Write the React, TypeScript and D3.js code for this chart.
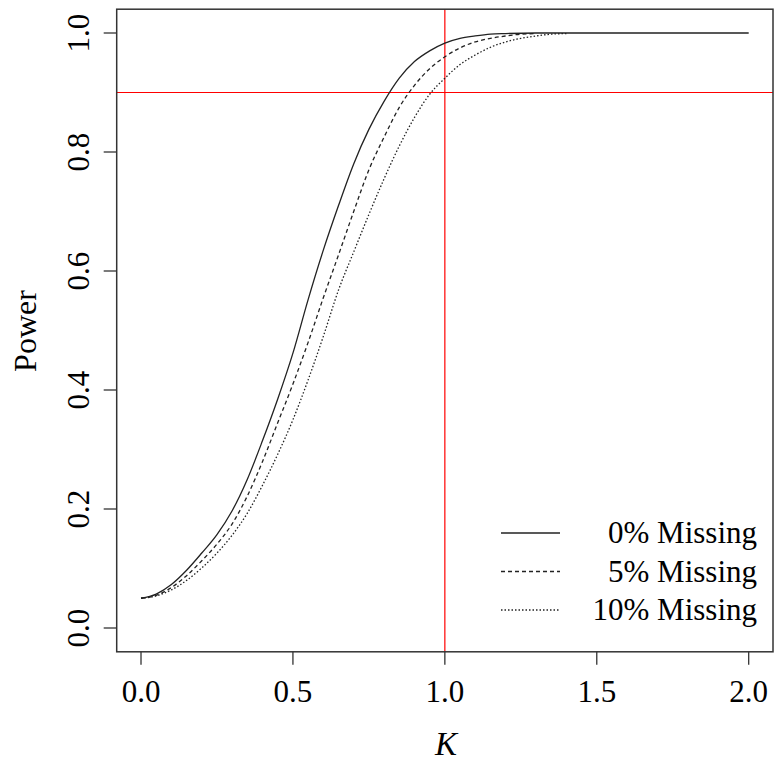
import React from 'react';
import * as d3 from 'd3';

// power curves (K -> power)
const k0 = [0, 0.05, 0.1, 0.15, 0.2, 0.25, 0.3, 0.35, 0.4, 0.45, 0.5, 0.55, 0.6, 0.65, 0.7, 0.75, 0.8, 0.85, 0.9, 0.95, 1.0, 1.05, 1.1, 1.15, 1.2, 1.3, 1.4, 1.6, 1.8, 2.0];
const p0 = [0.05, 0.057, 0.073, 0.097, 0.126, 0.157, 0.197, 0.25, 0.315, 0.385, 0.462, 0.552, 0.635, 0.71, 0.78, 0.838, 0.885, 0.924, 0.952, 0.97, 0.983, 0.991, 0.995, 0.998, 0.999, 1.0, 1.0, 1.0, 1.0, 1.0];

const k5 = [0, 0.05, 0.1, 0.15, 0.2, 0.25, 0.3, 0.35, 0.4, 0.45, 0.5, 0.55, 0.6, 0.65, 0.7, 0.75, 0.8, 0.85, 0.9, 0.95, 1.0, 1.05, 1.1, 1.15, 1.2, 1.25, 1.3];
const p5 = [0.05, 0.055, 0.068, 0.088, 0.113, 0.141, 0.175, 0.222, 0.28, 0.345, 0.41, 0.48, 0.555, 0.627, 0.7, 0.77, 0.825, 0.875, 0.912, 0.94, 0.96, 0.975, 0.985, 0.991, 0.995, 0.998, 0.999];

const k10 = [0, 0.05, 0.1, 0.15, 0.2, 0.25, 0.3, 0.35, 0.4, 0.45, 0.5, 0.55, 0.6, 0.65, 0.7, 0.75, 0.8, 0.85, 0.9, 0.95, 1.0, 1.05, 1.1, 1.15, 1.2, 1.25, 1.3, 1.35, 1.4];
const p10 = [0.05, 0.054, 0.064, 0.08, 0.101, 0.126, 0.156, 0.193, 0.24, 0.292, 0.35, 0.417, 0.49, 0.568, 0.632, 0.695, 0.755, 0.81, 0.858, 0.897, 0.924, 0.947, 0.963, 0.976, 0.985, 0.991, 0.995, 0.998, 0.999];

const seriesNames = ['0% Missing', '5% Missing', '10% Missing'];
const dashes = [null, '4,3', '1.5,2'];
const xTicks = [0, 0.5, 1, 1.5, 2];
const yTicks = [0, 0.2, 0.4, 0.6, 0.8, 1.0];
const hLine = 0.9;
const vLine = 1.0;

const W = 774;
const H = 766;
const font = '"Liberation Serif", "Times New Roman", serif';

export default function App() {
  // R style: 4% padding around data range
  const x = d3.scaleLinear().domain([-0.08, 2.08]).range([116.7, 773]);
  const y = d3.scaleLinear().domain([-0.04, 1.04]).range([651.8, 9.2]);

  const series = [
    k0.map((k, i) => [k, p0[i]]),
    k5.map((k, i) => [k, p5[i]]),
    k10.map((k, i) => [k, p10[i]]),
  ];

  const line = d3
    .line<number[]>()
    .x((d) => x(d[0]))
    .y((d) => y(d[1]))
    .curve(d3.curveMonotoneX);

  const [x0, x1] = x.range();
  const [yb, yt] = y.range();
  const axisColor = '#333';

  return (
    <div style={{ position: 'fixed', left: 0, top: 0 }}>
      <svg width={W} height={H} style={{ display: 'block', background: '#fff' }} fontFamily={font}>
        <rect x={0} y={0} width={W} height={H} fill="#fff" />

        {/* reference lines */}
        <line x1={x0} x2={x1} y1={y(hLine)} y2={y(hLine)} stroke="#ff0000" strokeWidth={1.2} />
        <line x1={x(vLine)} x2={x(vLine)} y1={yb} y2={yt} stroke="#ff0000" strokeWidth={1.2} />

        {/* curves */}
        {series.map((s, i) => (
          <path
            key={i}
            d={line(s) || ''}
            fill="none"
            stroke="#222"
            strokeWidth={1.3}
            strokeDasharray={dashes[i] || undefined}
          />
        ))}

        {/* box */}
        <rect x={x0} y={yt} width={x1 - x0} height={yb - yt} fill="none" stroke={axisColor} strokeWidth={1.5} />

        {/* x axis */}
        {xTicks.map((t) => (
          <g key={'x' + t}>
            <line x1={x(t)} x2={x(t)} y1={yb} y2={yb + 13} stroke={axisColor} strokeWidth={1.3} />
            <text x={x(t)} y={702} fontSize={31} textAnchor="middle" fill="#000">
              {t.toFixed(1)}
            </text>
          </g>
        ))}

        {/* y axis */}
        {yTicks.map((t) => (
          <g key={'y' + t}>
            <line x1={x0 - 13} x2={x0} y1={y(t)} y2={y(t)} stroke={axisColor} strokeWidth={1.3} />
            <text
              transform={`translate(89,${y(t)}) rotate(-90)`}
              fontSize={31}
              textAnchor="middle"
              fill="#000"
            >
              {t.toFixed(1)}
            </text>
          </g>
        ))}

        <text x={446} y={755} fontSize={33} fontStyle="italic" textAnchor="middle" fill="#000">
          K
        </text>
        <text transform="translate(36,331) rotate(-90)" fontSize={32} textAnchor="middle" fill="#000">
          Power
        </text>

        {/* legend */}
        {seriesNames.map((n, i) => {
          const ly = 533 + i * 38.5;
          return (
            <g key={n}>
              <line
                x1={501}
                x2={560}
                y1={ly}
                y2={ly}
                stroke="#222"
                strokeWidth={1.3}
                strokeDasharray={dashes[i] || undefined}
              />
              <text x={757} y={ly + 10} fontSize={31} textAnchor="end" fill="#000">
                {n}
              </text>
            </g>
          );
        })}
      </svg>
    </div>
  );
}
